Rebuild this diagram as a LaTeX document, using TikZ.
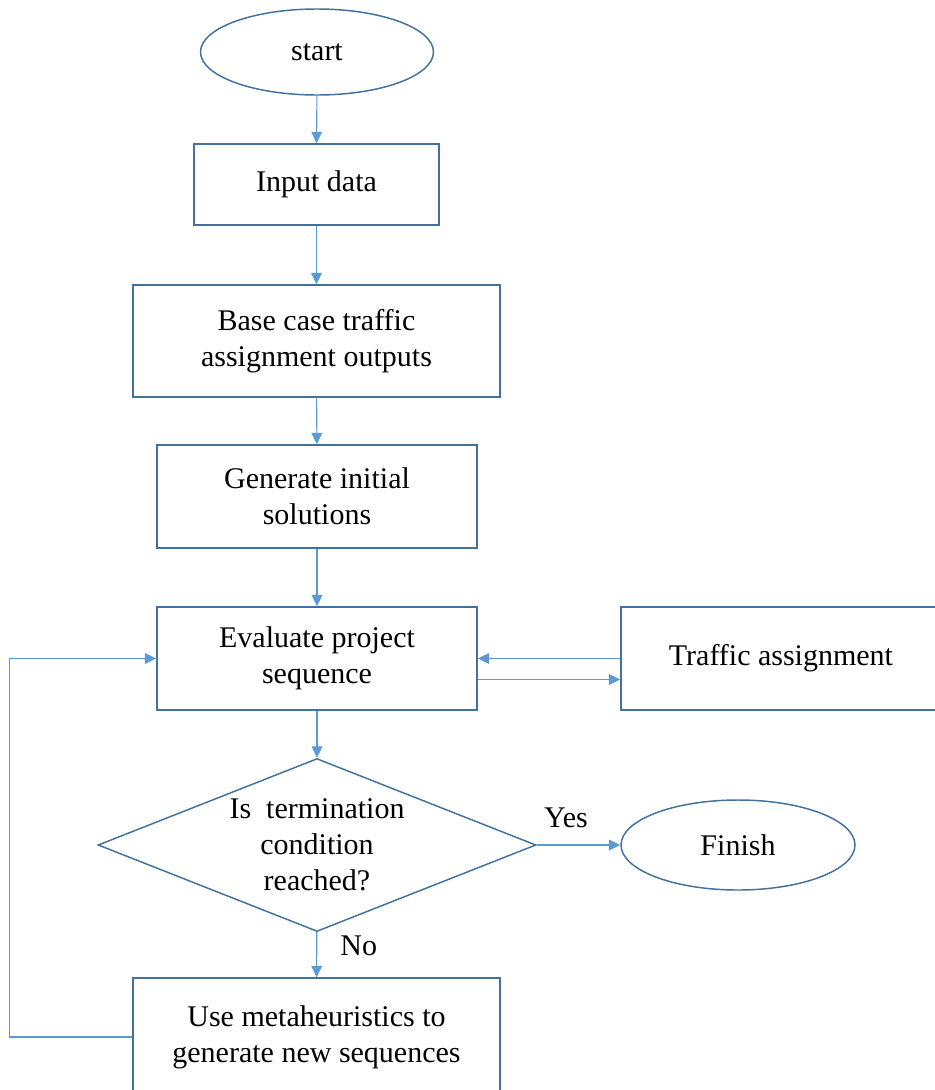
\documentclass[tikz,border=0pt]{standalone}
\usepackage{fontspec}
\setmainfont{Liberation Serif}
\usepackage{tikz}
\usetikzlibrary{positioning,arrows.meta,shapes.geometric}
\definecolor{BoxBlue}{RGB}{65,113,156}
\definecolor{FlowBlue}{RGB}{91,155,213}

\begin{document}
\begin{tikzpicture}[x={(0.75pt,0)},y={(0,-0.75pt)},
  every node/.style={font=\fontsize{22.5pt}{27pt}\selectfont,text=black},
  box/.style={draw=BoxBlue,line width=1.1pt,fill=white,align=center,inner sep=3pt},
  oval/.style={ellipse,draw=BoxBlue,line width=1.1pt,fill=white,inner sep=0pt},
  flow/.style={-{Triangle[length=8.5pt,width=8pt]},FlowBlue,line width=0.8pt}]
\useasboundingbox (0,0) rectangle (935,1090);
\clip (0,0) rectangle (935,1090);
\node[oval,minimum width=174.75pt,minimum height=64.5pt] (start) at (317,52) {start};
\node[box,minimum width=183.75pt,minimum height=60.75pt] (input) at (316.5,184.5) {Input data};
\node[box,minimum width=275.25pt,minimum height=84pt] (base) at (316.5,341) {Base case traffic\\assignment outputs};
\node[box,minimum width=240pt,minimum height=77.25pt] (init) at (317,496.5) {Generate initial\\solutions};
\node[box,minimum width=240pt,minimum height=77.25pt] (eval) at (317,658.5) {Evaluate project\\sequence};
\node[box,minimum width=240pt,minimum height=77.25pt] (traffic) at (781,658.5) {Traffic assignment};
\node[diamond,draw=BoxBlue,line width=1.1pt,fill=white,align=center,inner sep=0pt,aspect=2.53,
  minimum width=328.5pt,minimum height=129.75pt] (check) at (317,845) {Is\ \ termination\\condition\\reached?};
\node[oval,minimum width=175.5pt,minimum height=67.5pt] (finish) at (738,845) {Finish};
\node[box,minimum width=275.25pt,minimum height=88.5pt] (meta) at (316.5,1037) {Use metaheuristics to\\generate new sequences};
% main flow
\draw[flow] (start) -- (input);
\draw[flow] (input) -- (base);
\draw[flow] (base) -- (init);
\draw[flow] (init) -- (eval);
\draw[flow] (eval) -- (check);
\draw[flow] (check) -- node[right=14pt,pos=0.3] (no) {No} (meta);
\draw[flow] (check) -- node[above=9pt,pos=0.35] (yes) {Yes} (finish);
% traffic assignment exchange
\draw[flow] (traffic.west) -- (traffic.west -| eval.east);
\draw[flow] ([yshift=-15.75pt]eval.east) -- ([yshift=-15.75pt]eval.east -| traffic.west);
% loop back
\draw[flow] (meta.west) -- ++(-123,0) |- (eval.west);
\end{tikzpicture}
\end{document}
